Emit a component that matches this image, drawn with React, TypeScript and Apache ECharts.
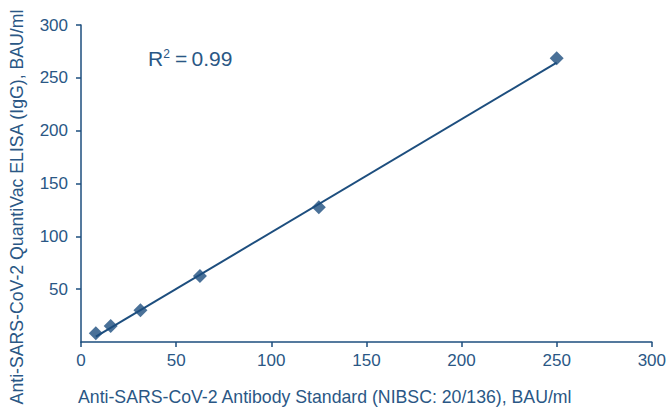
import React, { useEffect, useRef } from "react";
import * as echarts from "echarts";

const standardX = [7.8, 15.6, 31.25, 62.5, 125, 250];
const elisaY = [8.2, 15.1, 30, 62.5, 127.5, 268.5];
const trendX = [7.8, 250];
const trendY = [5, 264.4];
const axisTicks = [0, 50, 100, 150, 200, 250, 300];
const xTitle = "Anti-SARS-CoV-2 Antibody Standard (NIBSC: 20/136), BAU/ml";
const yTitle = "Anti-SARS-CoV-2 QuantiVac ELISA (IgG), BAU/ml";

const LINE = "#1d4e7e";
const TEXT = "#2a5785";
const FONT = "'Liberation Sans', Arial, Helvetica, sans-serif";

export default function App() {
  const ref = useRef<HTMLDivElement>(null);
  useEffect(() => {
    if (!ref.current) return;
    const chart = echarts.init(ref.current, null, { renderer: "svg" });
    const axisCommon = {
      type: "value" as const,
      min: axisTicks[0],
      max: axisTicks[axisTicks.length - 1],
      interval: axisTicks[1] - axisTicks[0],
      splitLine: { show: false },
      axisLine: { show: true, lineStyle: { color: LINE, width: 1.5 } },
      axisTick: { show: true, length: 5, lineStyle: { color: LINE, width: 1.5 } },
    };
    chart.setOption({
      animation: false,
      backgroundColor: "#ffffff",
      grid: { left: 81, right: 14, top: 25, bottom: 65 },
      xAxis: {
        ...axisCommon,
        axisLabel: { color: TEXT, fontSize: 17, fontFamily: FONT, margin: 10 },
      },
      yAxis: {
        ...axisCommon,
        axisLabel: { color: TEXT, fontSize: 17, fontFamily: FONT, margin: 13, showMinLabel: false },
      },
      graphic: [
        {
          type: "text",
          left: 148,
          top: 48,
          style: {
            rich: {
              a: { fontSize: 21, fontFamily: FONT, fill: TEXT },
              s: { fontSize: 12, fontFamily: FONT, fill: TEXT, verticalAlign: "top", padding: [0, 1, 9, 0] },
            },
            text: "{a|R}{s|2}{a|\u2009=\u20090.99}",
          },
        },
        {
          type: "text",
          x: 78,
          y: 397,
          style: {
            text: xTitle,
            fontSize: 17.7,
            fontFamily: FONT,
            fill: TEXT,
            align: "left",
            verticalAlign: "middle",
          },
        },
        {
          type: "text",
          x: 17,
          y: 207,
          rotation: Math.PI / 2,
          style: {
            text: yTitle,
            fontSize: 17.7,
            fontFamily: FONT,
            fill: TEXT,
            align: "center",
            verticalAlign: "middle",
          },
        },
      ],
      series: [
        {
          type: "line",
          data: trendX.map((x, i) => [x, trendY[i]]),
          symbol: "none",
          lineStyle: { color: LINE, width: 2 },
          z: 2,
        },
        {
          type: "scatter",
          data: standardX.map((x, i) => [x, elisaY[i]]),
          symbol: "diamond",
          symbolSize: 14,
          itemStyle: { color: LINE },
          z: 3,
        },
      ],
    });
    return () => chart.dispose();
  }, []);
  return <div ref={ref} style={{ width: 669, height: 407, position: "absolute", left: 0, top: 0 }} />;
}
